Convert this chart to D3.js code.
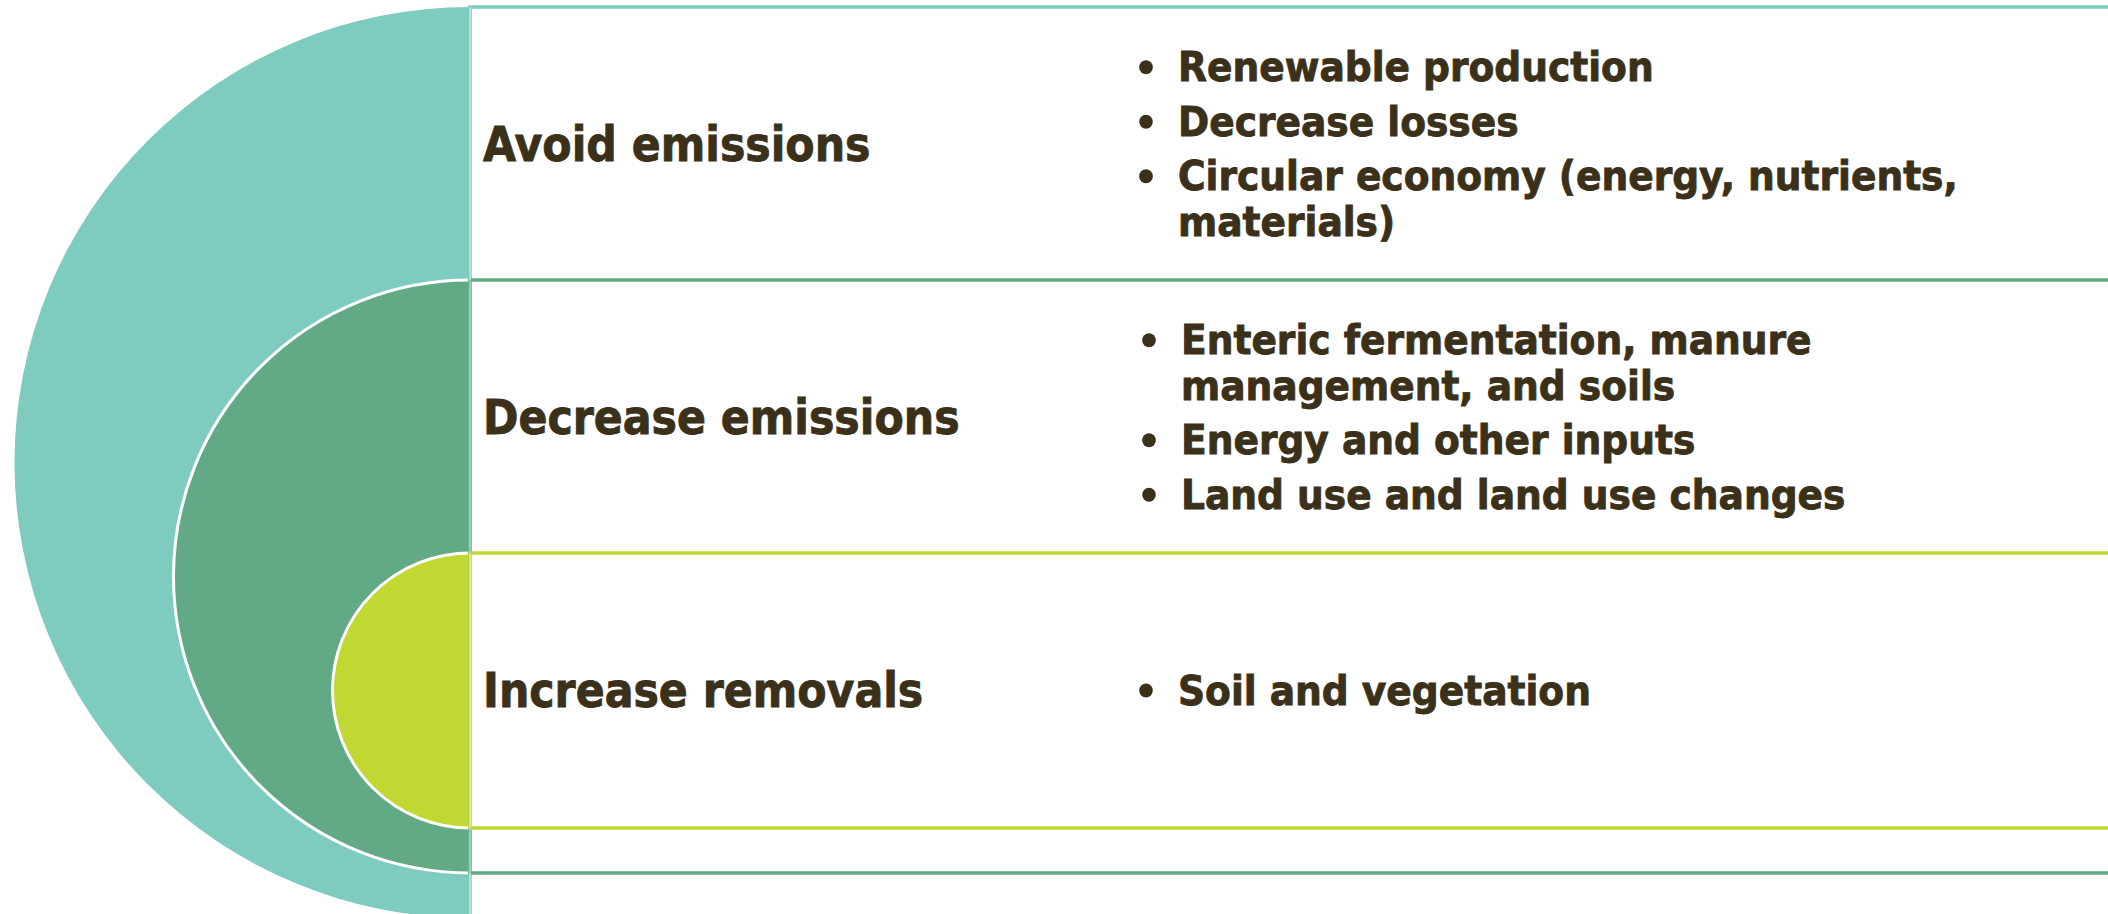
<!DOCTYPE html>
<html>
<head>
<meta charset="utf-8">
<script src="https://cdn.jsdelivr.net/npm/d3@7"></script>
<style>
  html, body { margin: 0; padding: 0; background: #fff; overflow: hidden; }
  text { font-family: 'DejaVu Sans', Verdana, sans-serif; font-weight: bold; fill: #3b3019; stroke: #3b3019; stroke-width: 0.9px; }
</style>
</head>
<body>
<div id="chart"></div>
<script>
// rows of the nested target, outer to inner
const categories = ['Avoid emissions', 'Decrease emissions', 'Increase removals']
const colors = ['#7ecbbf', '#62a986', '#c0d831']

// bullet items per row, each item already split into its wrapped lines
const avoidItems = [
  ['Renewable production'],
  ['Decrease losses'],
  ['Circular economy (energy, nutrients,', 'materials)']
]
const decreaseItems = [
  ['Enteric fermentation, manure', 'management, and soils'],
  ['Energy and other inputs'],
  ['Land use and land use changes']
]
const increaseItems = [
  ['Soil and vegetation']
]
const items = [avoidItems, decreaseItems, increaseItems]

const width = 2108
const height = 914
const edgeX = 470 // right edge of the arcs, left edge of the boxes
const bottomBase = 828
const bottomStep = 45
const labelX = 483
const bulletX = [1178, 1181, 1178]
const lineHeight = 45.5
const itemGap = 9

const svg = d3.select('#chart')
  .append('svg')
  .attr('width', width)
  .attr('height', height)

// each row band is the top part of its box
const y = d3.scaleBand()
  .domain(categories)
  .range([7, 826])

const rows = categories.map((c, i) => {
  const top = y(c)
  const bottom = bottomBase + (categories.length - 1 - i) * bottomStep
  return { name: c, i, top, bottom, color: colors[i], items: items[i] }
})

// half-ellipse shapes on the left
function halfArc (d) {
  const r = (d.bottom - d.top) / 2
  return `M${edgeX},${d.top} A${r},${r} 0 0 0 ${edgeX},${d.bottom}`
}

const shapes = svg.append('g')
rows.forEach(d => {
  shapes.append('path')
    .attr('d', halfArc(d) + ' Z')
    .attr('fill', d.color)
  if (d.i > 0) {
    shapes.append('path')
      .attr('d', halfArc(d))
      .attr('fill', 'none')
      .attr('stroke', '#fff')
      .attr('stroke-width', 3)
  }
})

// boxes to the right, drawn outer first
const boxes = svg.append('g')
rows.forEach(d => {
  boxes.append('rect')
    .attr('x', edgeX)
    .attr('y', d.top)
    .attr('width', width)
    .attr('height', d.bottom - d.top)
    .attr('fill', '#fff')
    .attr('stroke', d.color)
    .attr('stroke-width', 3.5)
})
rows.forEach(d => {
  boxes.append('line')
    .attr('x1', edgeX).attr('x2', edgeX)
    .attr('y1', d.top).attr('y2', d.bottom)
    .attr('stroke', d3.interpolateRgb(d.color, '#fff')(0.4))
    .attr('stroke-width', 2)
})

// row labels
svg.append('g')
  .selectAll('text')
  .data(rows)
  .join('text')
  .attr('transform', d => `translate(${labelX}, ${y(d.name) + y.bandwidth() / 2 + 17}) scale(0.89, 1)`)
  .style('font-size', '48px')
  .text(d => d.name)

// bullet lists
const lists = svg.append('g')
rows.forEach(d => {
  const lines = []
  let offset = 0
  d.items.forEach((item, k) => {
    if (k > 0) offset += lineHeight + itemGap
    item.forEach((t, j) => {
      if (j > 0) offset += lineHeight
      lines.push({ text: t, dy: offset, first: j === 0 })
    })
  })
  const span = offset
  const firstBase = y(d.name) + y.bandwidth() / 2 - span / 2 + 15
  const x0 = bulletX[d.i]

  lines.forEach(l => {
    const base = firstBase + l.dy
    if (l.first) {
      lists.append('ellipse')
        .attr('cx', x0 - 32)
        .attr('cy', base - 14)
        .attr('rx', 6.8)
        .attr('ry', 7)
        .attr('fill', '#3b3019')
    }
    lists.append('text')
      .attr('transform', `translate(${x0}, ${base}) scale(0.94, 1)`)
      .style('font-size', '40px')
      .text(l.text)
  })
})
</script>
</body>
</html>
